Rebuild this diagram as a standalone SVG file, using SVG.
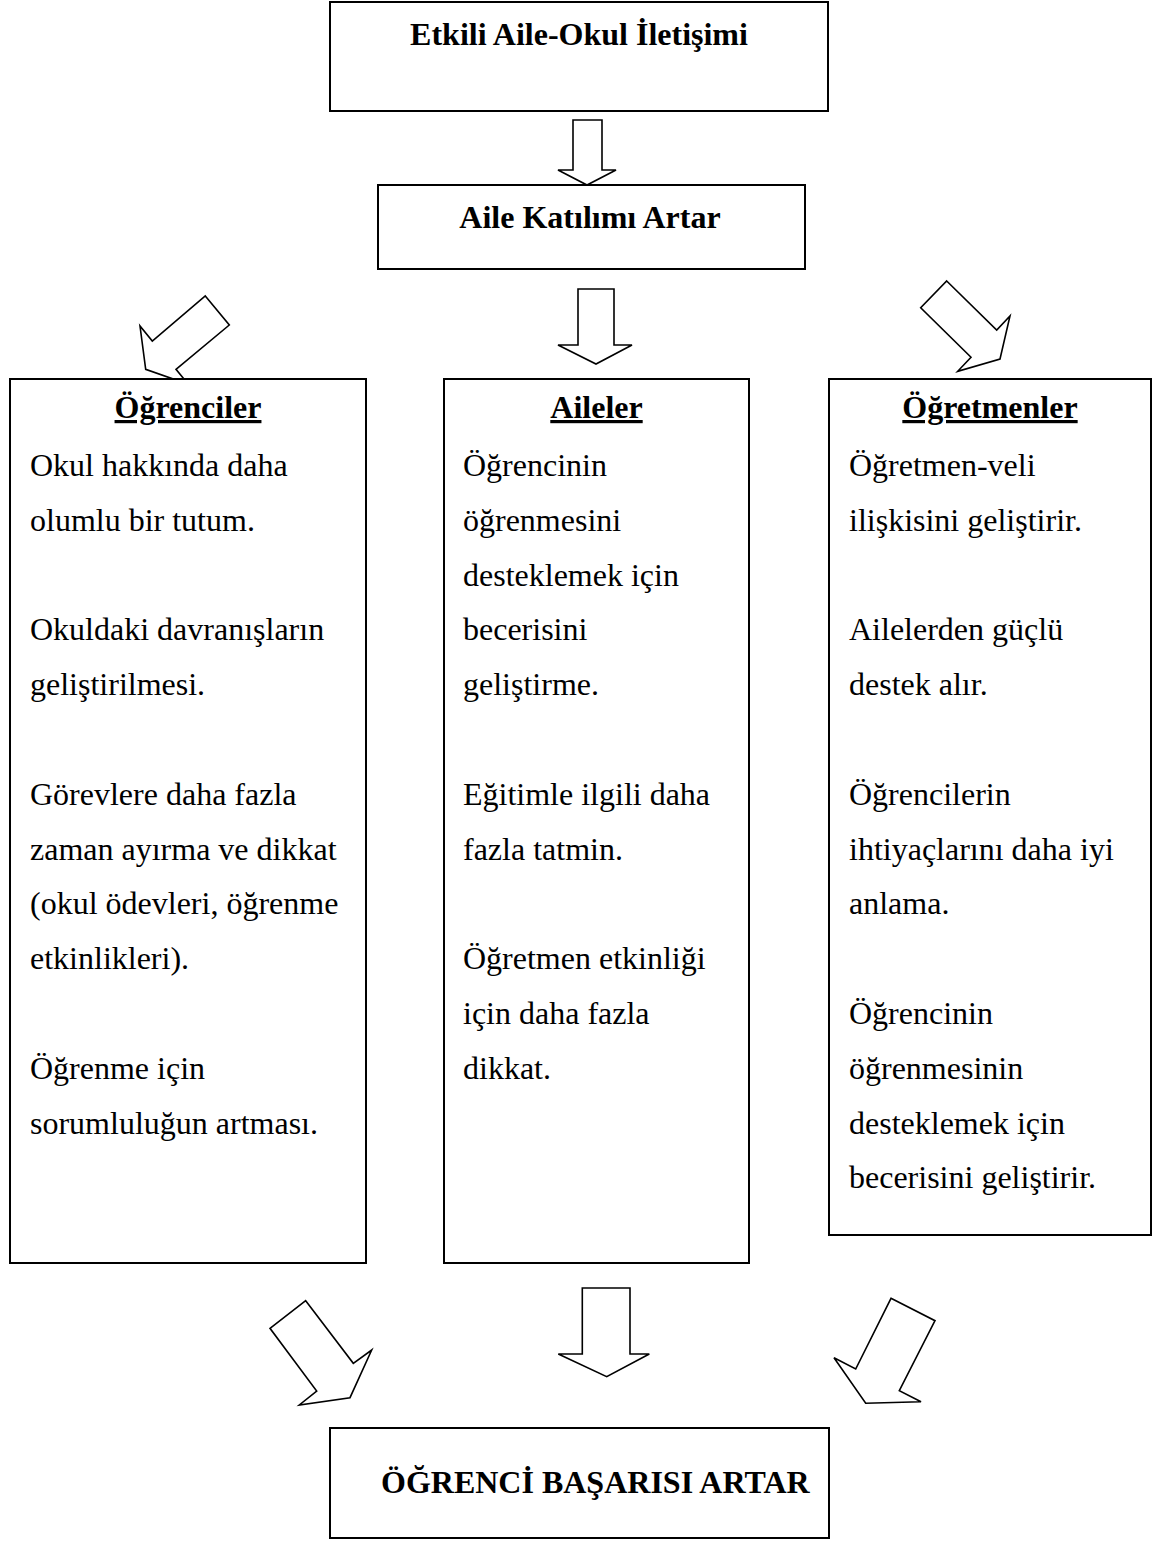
<svg xmlns="http://www.w3.org/2000/svg" width="1157" height="1561" viewBox="0 0 1157 1561">
<style>
.box{fill:#fff;stroke:#000;stroke-width:2}
.arr{fill:#fff;stroke:#000;stroke-width:1.6;stroke-linejoin:miter}
text{font-family:"Liberation Serif","Times New Roman",serif;font-size:32px;fill:#000}
.b{font-weight:bold}
.c{text-anchor:middle}
.u{text-decoration:underline}
</style>
<rect width="1157" height="1561" fill="#fff"/>
<g id="connectors">
<polygon class="arr" points="573,120 602,120 602,170 616,170 587,185 558,170 573,170"/>
<polygon class="arr" points="205.3,296 229.3,325 176,369.3 188.3,384.3 145.7,369.3 140,326 152.3,341"/>
<polygon class="arr" points="578,289 614,289 614,345 632,345 596,364 558,345 578,345"/>
<polygon class="arr" points="946.7,281 996.7,330 1010,316 1000,359 957.7,371.3 971,357.3 920.7,307.7"/>
<polygon class="arr" points="305.7,1300.7 353.3,1363.3 371.7,1350 350,1397.7 299.3,1405 316.7,1391 270,1328.3"/>
<polygon class="arr" points="582.3,1288 630,1288 630,1354 649.3,1354 606.7,1376.7 558.3,1354 582.3,1354"/>
<polygon class="arr" points="891,1298.3 935,1320.7 899.3,1390.7 921,1401.7 865.7,1403.3 834,1357.7 855.7,1369"/>
</g>
<g id="node-iletisim">
<rect class="box" x="330" y="2" width="498" height="109"/>
<text class="b c" x="579" y="45">Etkili Aile-Okul İletişimi</text>
</g>
<g id="node-katilim">
<rect class="box" x="378" y="185" width="427" height="84"/>
<text class="b c" x="590" y="228">Aile Katılımı Artar</text>
</g>
<g id="node-ogrenciler">
<rect class="box" x="10" y="379" width="356" height="884"/>
<text class="b c u" x="188" y="418">Öğrenciler</text>
<text x="30" y="476">Okul hakkında daha</text>
<text x="30" y="530.8">olumlu bir tutum.</text>
<text x="30" y="640.4">Okuldaki davranışların</text>
<text x="30" y="695.2">geliştirilmesi.</text>
<text x="30" y="804.8">Görevlere daha fazla</text>
<text x="30" y="859.6">zaman ayırma ve dikkat</text>
<text x="30" y="914.4">(okul ödevleri, öğrenme</text>
<text x="30" y="969.2">etkinlikleri).</text>
<text x="30" y="1078.8">Öğrenme için</text>
<text x="30" y="1133.6">sorumluluğun artması.</text>
</g>
<g id="node-aileler">
<rect class="box" x="444" y="379" width="305" height="884"/>
<text class="b c u" x="596.5" y="418">Aileler</text>
<text x="463" y="476">Öğrencinin</text>
<text x="463" y="530.8">öğrenmesini</text>
<text x="463" y="585.6">desteklemek için</text>
<text x="463" y="640.4">becerisini</text>
<text x="463" y="695.2">geliştirme.</text>
<text x="463" y="804.8">Eğitimle ilgili daha</text>
<text x="463" y="859.6">fazla tatmin.</text>
<text x="463" y="969.2">Öğretmen etkinliği</text>
<text x="463" y="1024">için daha fazla</text>
<text x="463" y="1078.8">dikkat.</text>
</g>
<g id="node-ogretmenler">
<rect class="box" x="829" y="379" width="322" height="856"/>
<text class="b c u" x="990" y="418">Öğretmenler</text>
<text x="849" y="476">Öğretmen-veli</text>
<text x="849" y="530.8">ilişkisini geliştirir.</text>
<text x="849" y="640.4">Ailelerden güçlü</text>
<text x="849" y="695.2">destek alır.</text>
<text x="849" y="804.8">Öğrencilerin</text>
<text x="849" y="859.6">ihtiyaçlarını daha iyi</text>
<text x="849" y="914.4">anlama.</text>
<text x="849" y="1024">Öğrencinin</text>
<text x="849" y="1078.8">öğrenmesinin</text>
<text x="849" y="1133.6">desteklemek için</text>
<text x="849" y="1188.4">becerisini geliştirir.</text>
</g>
<g id="node-basari">
<rect class="box" x="330" y="1428" width="499" height="110"/>
<text class="b" x="381" y="1493" font-size="33">ÖĞRENCİ BAŞARISI ARTAR</text>
</g>
</svg>
